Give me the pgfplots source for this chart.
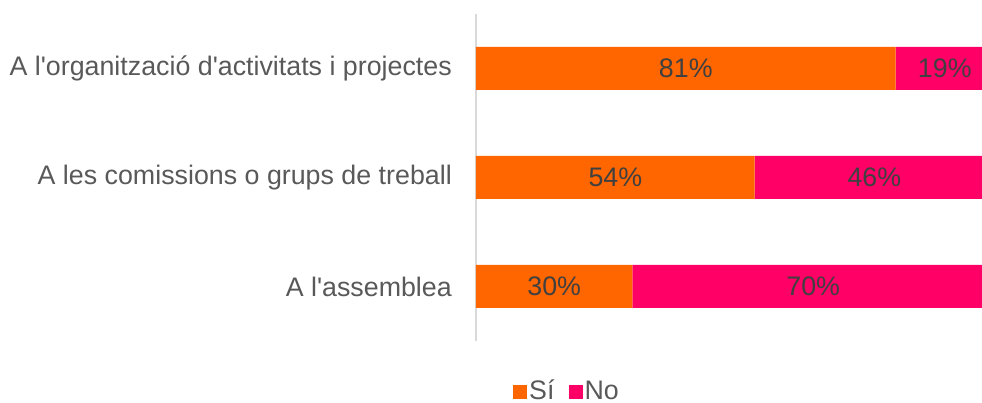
\documentclass[border=0pt]{standalone}
\usepackage{fontspec}
\setmainfont{Liberation Sans}[Ligatures=TeXOff]
\usepackage{pgfplots}
\pgfplotsset{compat=1.18}
\definecolor{si}{HTML}{FF6600}
\definecolor{no}{HTML}{FF0066}
\definecolor{lbl}{HTML}{404040}
\definecolor{tickc}{HTML}{595959}
\newcommand{\bigf}{\fontsize{26.8pt}{32pt}\selectfont}
\begin{document}
\bigf
\begin{tikzpicture}
\useasboundingbox (-476pt,-62pt) rectangle (506pt,341pt);
\begin{axis}[
 at={(0pt,0pt)}, anchor=south west,
 scale only axis, width=518pt, height=327pt,
 xbar stacked, bar width=43pt,
 xmin=0, xmax=100, ymin=-0.5, ymax=2.5,
 axis x line=none,
 axis y line*=left,
 y axis line style={draw=black!15, line width=1.2pt, -},
 ytick={0,1,2},
 yticklabels={A l'assemblea, A les comissions o grups de treball, A l'organització d'activitats i projectes},
 major tick length=0pt,
 yticklabel style={font=\bigf, text=tickc, inner sep=0pt, xshift=-24pt},
 /pgf/number format/assume math mode=true,
 nodes near coords={\pgfmathprintnumber{\pgfplotspointmeta}\%},
 point meta=explicit,
 every node near coord/.append style={font=\bigf, text=lbl, anchor=center, inner sep=0pt},
 legend style={at={(axis description cs:0.1757,-0.156)}, anchor=center, draw=none, fill=none, font=\bigf, text=tickc, nodes={inner sep=2pt}, /tikz/every even column/.append style={column sep=12pt}},
 legend columns=2,
 legend image code/.code={\fill[#1] (0pt,-7pt) rectangle (14pt,7pt);},
]
\addplot[fill=si, draw=none] coordinates {(30.2,0) [30] (53.8,1) [54] (81,2) [81]};
\addplot[fill=no, draw=none] coordinates {(69.8,0) [70] (46.2,1) [46] (19,2) [19]};
\legend{Sí, No}
\end{axis}
\end{tikzpicture}
\end{document}
